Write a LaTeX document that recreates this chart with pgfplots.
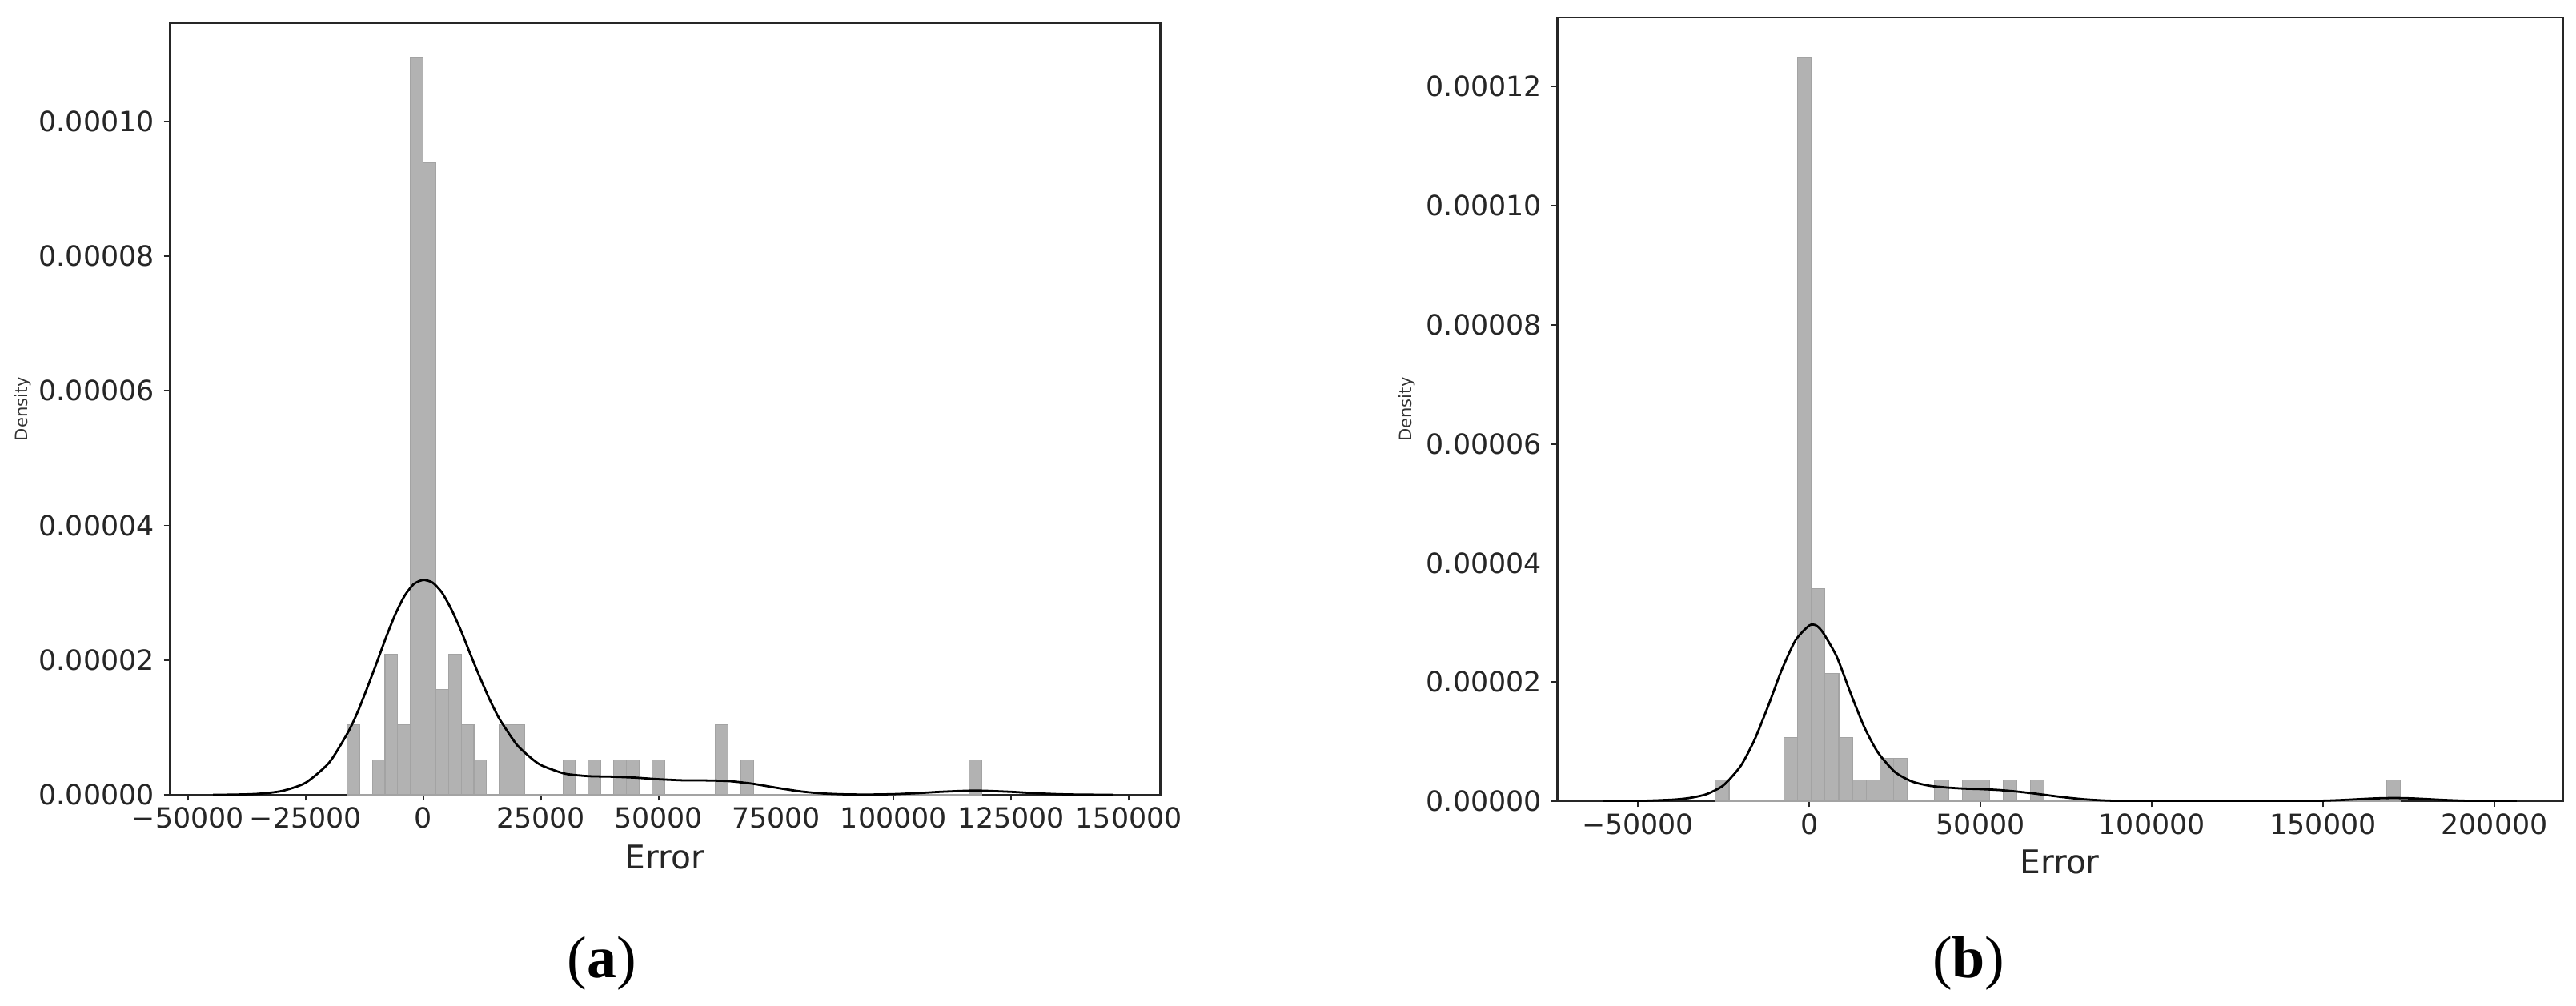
\documentclass[border=0pt]{standalone}
\usepackage{pgfplots}
\pgfplotsset{compat=1.18}
\usepackage{fontspec}
\setmainfont{DejaVu Sans}
\newfontfamily\capfont{Liberation Serif}

% common look of both panels (seaborn distplot style)
\pgfplotsset{
  errplot/.style={
    scale only axis,
    axis line style={black!85, line width=0.8pt},
    tick align=outside,
    xtick pos=bottom, ytick pos=left,
    major tick length=2pt,
    every tick/.style={black!85, line width=0.5pt},
    ymin=0,
    scaled x ticks=false, scaled y ticks=false,
    tick label style={font=\fontsize{9.4}{10}\selectfont, text=black!85},
    yticklabel style={anchor=east, inner sep=0pt, xshift=-3pt},
    xticklabel style={anchor=north, inner sep=0pt, yshift=-2pt},
    xlabel={Error},
    ylabel={Density},
    xlabel style={font=\fontsize{11}{13}\selectfont, text=black!85, anchor=center},
    ylabel style={font=\fontsize{5.7}{7}\selectfont, text=black!80, anchor=center},
  },
  hist/.style={ybar interval, fill=black!30, draw=black!36, line width=0.3pt},
  kde/.style={black, line width=0.75pt, smooth, tension=0.4, mark=none},
}

\begin{document}
\begin{tikzpicture}
\path[use as bounding box] (0,0) rectangle (868.86pt,-339.39pt);

% ---- panel (a)
\begin{axis}[errplot,
  at={(57.24pt,-268.11pt)}, anchor=south west,
  width=333.99pt, height=260.28pt,
  xmin=-53900, xmax=156600, ymax=0.0001146,
  xtick={-50000,-25000,0,25000,50000,75000,100000,125000,150000},
  xticklabels={−50000,−25000,0,25000,50000,75000,100000,125000,150000},
  ytick={0,0.00002,0.00004,0.00006,0.00008,0.0001},
  yticklabels={0.00000,0.00002,0.00004,0.00006,0.00008,0.00010},
  xlabel style={at={(axis description cs:0.5,-0.081)}},
  ylabel style={at={(axis description cs:-0.148,0.5)}},
]
\addplot[hist] coordinates {
  (-16230,1.0433e-5) (-13530,0) (-10830,5.2165e-6) (-8130,2.0866e-5)
  (-5430,1.0433e-5) (-2730,1.09547e-4) (-30,9.3897e-5) (2670,1.56495e-5)
  (5370,2.0866e-5) (8070,1.0433e-5) (10770,5.2165e-6) (13470,0)
  (16170,1.0433e-5) (18870,1.0433e-5) (21570,0) (29670,5.2165e-6)
  (32370,0) (35070,5.2165e-6) (37770,0) (40470,5.2165e-6) (43170,5.2165e-6)
  (45870,0) (48570,5.2165e-6) (51270,0) (62070,1.0433e-5) (64770,0)
  (67470,5.2165e-6) (70170,0) (116070,5.2165e-6) (118770,0)
};
\addplot[kde] coordinates {
  (-44700,0) (-40000,3e-8) (-35000,1.5e-7) (-30000,5.7e-7) (-25000,1.79e-6)
  (-20000,4.78e-6) (-16000,9.26e-6) (-14000,1.22e-5) (-12000,1.57e-5)
  (-10000,1.94e-5) (-8000,2.32e-5) (-6000,2.67e-5) (-4000,2.95e-5)
  (-2000,3.13e-5) (0,3.19e-5) (2000,3.15e-5) (4000,3.00e-5)
  (6000,2.75e-5) (8000,2.44e-5) (10000,2.09e-5) (12000,1.75e-5)
  (14000,1.43e-5) (16000,1.15e-5) (18000,9.3e-6) (20000,7.33e-6)
  (22500,5.7e-6) (25000,4.41e-6) (30000,3.15e-6) (35000,2.77e-6)
  (40000,2.69e-6) (45000,2.545e-6) (50000,2.31e-6) (55000,2.153e-6)
  (60000,2.129e-6) (65000,2.029e-6) (70000,1.644e-6) (75000,1.054e-6)
  (80000,5.19e-7) (85000,1.94e-7) (90000,6.1e-8) (95000,3.9e-8)
  (100000,9.7e-8) (105000,2.41e-7) (110000,4.45e-7) (117400,6.25e-7)
  (125000,4.38e-7) (130000,2.35e-7) (135000,9.2e-8) (140000,2.7e-8)
  (146700,0)
};
\end{axis}

% ---- panel (b)
\begin{axis}[errplot,
  at={(525.15pt,-270.27pt)}, anchor=south west,
  width=339.12pt, height=264.33pt,
  xmin=-73640, xmax=219840, ymax=0.0001316,
  xtick={-50000,0,50000,100000,150000,200000},
  xticklabels={−50000,0,50000,100000,150000,200000},
  ytick={0,0.00002,0.00004,0.00006,0.00008,0.0001,0.00012},
  yticklabels={0.00000,0.00002,0.00004,0.00006,0.00008,0.00010,0.00012},
  xlabel style={at={(axis description cs:0.5,-0.0776)}},
  ylabel style={at={(axis description cs:-0.149,0.5)}},
]
\addplot[hist] coordinates {
  (-27400,3.5714e-6) (-23400,0) (-7400,1.07143e-5) (-3400,1.25e-4)
  (600,3.5714e-5) (4600,2.14286e-5) (8600,1.07143e-5) (12600,3.5714e-6)
  (16600,3.5714e-6) (20600,7.1429e-6) (24600,7.1429e-6) (28600,0)
  (36600,3.5714e-6) (40600,0) (44600,3.5714e-6) (48600,3.5714e-6)
  (52600,0) (56600,3.5714e-6) (60600,0) (64600,3.5714e-6) (68600,0)
  (168600,3.5714e-6) (172600,0)
};
\addplot[kde] coordinates {
  (-60300,0) (-50000,4e-8) (-40000,2.5e-7) (-35000,5.35e-7) (-30000,1.175e-6)
  (-25000,2.69e-6) (-20000,5.93e-6) (-16000,1.027e-5) (-12000,1.598e-5)
  (-8000,2.21e-5) (-4000,2.704e-5) (0,2.95e-5) (2000,2.95e-5)
  (4000,2.83e-5) (8000,2.427e-5) (12000,1.82e-5) (16000,1.25e-5)
  (20000,8.2e-6) (25000,4.9e-6) (30000,3.3e-6) (35000,2.6e-6)
  (40000,2.3e-6) (45000,2.12e-6) (50000,2.03e-6) (55000,1.89e-6)
  (60000,1.65e-6) (65000,1.335e-6) (70000,9.67e-7) (75000,6.12e-7)
  (80000,3.3e-7) (85000,1.49e-7) (90000,5.5e-8) (100000,4e-9)
  (140000,9e-9) (150000,8.3e-8) (155000,1.83e-7) (160000,3.26e-7)
  (165000,4.65e-7) (170600,5.34e-7) (176000,4.7e-7) (181000,3.32e-7)
  (186000,1.89e-7) (192000,7.2e-8) (200000,1.2e-8) (206500,0)
};
\end{axis}

\node[font=\capfont\fontsize{20}{24}\selectfont] at (203pt,-325pt) {(\textbf{a})};
\node[font=\capfont\fontsize{20}{24}\selectfont] at (664pt,-325pt) {(\textbf{b})};
\end{tikzpicture}
\end{document}
